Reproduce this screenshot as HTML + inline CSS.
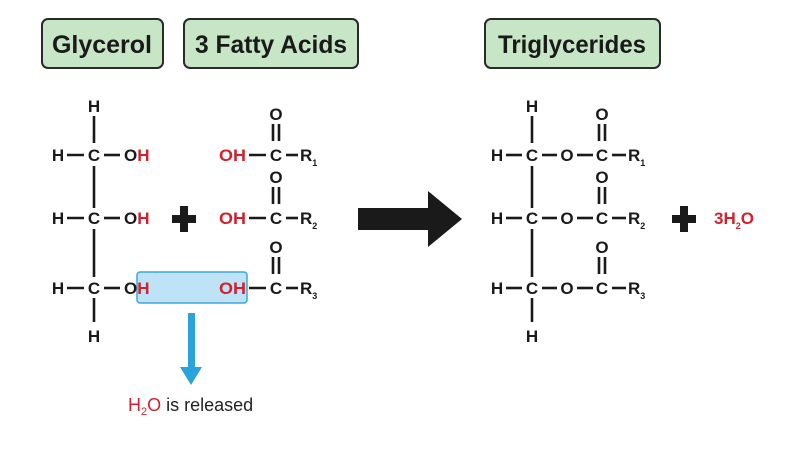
<!DOCTYPE html>
<html><head><meta charset="utf-8"><style>
html,body{margin:0;padding:0;background:#fff;}
svg{display:block;}
text{font-family:"Liberation Sans",Arial,sans-serif;}
.b{font-weight:bold;font-size:17px;fill:#1a1a1a;}
.r{fill:#d3202e;}
</style></head><body>
<svg width="800" height="475" viewBox="0 0 800 475" xmlns="http://www.w3.org/2000/svg">
<rect width="800" height="475" fill="#fff"/>
<g stroke="#2a2a2a" stroke-width="2" fill="#c6e6c5">
<rect x="42" y="19" width="121" height="49" rx="6"/>
<rect x="184" y="19" width="174" height="49" rx="6"/>
<rect x="485" y="19" width="175" height="49" rx="6"/>
</g>
<g font-weight="bold" font-size="25" fill="#1a1a1a" text-anchor="middle">
<text x="102" y="53" textLength="100" lengthAdjust="spacingAndGlyphs">Glycerol</text>
<text x="271" y="53" textLength="152" lengthAdjust="spacingAndGlyphs">3 Fatty Acids</text>
<text x="572" y="53" textLength="148" lengthAdjust="spacingAndGlyphs">Triglycerides</text>
</g>
<g stroke="#1a1a1a" stroke-width="2.6">
<line x1="94" y1="116" x2="94" y2="143"/>
<line x1="94" y1="166" x2="94" y2="208"/>
<line x1="94" y1="229" x2="94" y2="277"/>
<line x1="94" y1="298" x2="94" y2="322"/>
<line x1="67" y1="155" x2="84" y2="155"/><line x1="104" y1="155" x2="120" y2="155"/>
<line x1="67" y1="218" x2="84" y2="218"/><line x1="104" y1="218" x2="120" y2="218"/>
<line x1="67" y1="288" x2="84" y2="288"/><line x1="104" y1="288" x2="120" y2="288"/>
<line x1="249" y1="155" x2="266" y2="155"/><line x1="286" y1="155" x2="298" y2="155"/>
<line x1="249" y1="218" x2="266" y2="218"/><line x1="286" y1="218" x2="298" y2="218"/>
<line x1="249" y1="288" x2="266" y2="288"/><line x1="286" y1="288" x2="298" y2="288"/>
<line x1="273" y1="124" x2="273" y2="141"/><line x1="279" y1="124" x2="279" y2="141"/>
<line x1="273" y1="187" x2="273" y2="204"/><line x1="279" y1="187" x2="279" y2="204"/>
<line x1="273" y1="257" x2="273" y2="274"/><line x1="279" y1="257" x2="279" y2="274"/>
<line x1="532" y1="116" x2="532" y2="143"/>
<line x1="532" y1="166" x2="532" y2="208"/>
<line x1="532" y1="229" x2="532" y2="277"/>
<line x1="532" y1="298" x2="532" y2="322"/>
<line x1="506" y1="155" x2="522" y2="155"/><line x1="542" y1="155" x2="557" y2="155"/><line x1="577" y1="155" x2="593" y2="155"/><line x1="612" y1="155" x2="626" y2="155"/>
<line x1="506" y1="218" x2="522" y2="218"/><line x1="542" y1="218" x2="557" y2="218"/><line x1="577" y1="218" x2="593" y2="218"/><line x1="612" y1="218" x2="626" y2="218"/>
<line x1="506" y1="288" x2="522" y2="288"/><line x1="542" y1="288" x2="557" y2="288"/><line x1="577" y1="288" x2="593" y2="288"/><line x1="612" y1="288" x2="626" y2="288"/>
<line x1="599" y1="124" x2="599" y2="141"/><line x1="605" y1="124" x2="605" y2="141"/>
<line x1="599" y1="187" x2="599" y2="204"/><line x1="605" y1="187" x2="605" y2="204"/>
<line x1="599" y1="257" x2="599" y2="274"/><line x1="605" y1="257" x2="605" y2="274"/>
</g>
<rect x="137" y="272" width="110" height="31" rx="3" fill="#bfe3f6" stroke="#3aa7db" stroke-width="1.5"/>
<g class="b" text-anchor="middle">
<text x="94" y="112">H</text>
<text x="58" y="161">H</text><text x="94" y="161">C</text>
<text x="58" y="224">H</text><text x="94" y="224">C</text>
<text x="58" y="294">H</text><text x="94" y="294">C</text>
<text x="94" y="342">H</text>
<text x="276" y="120">O</text><text x="276" y="183">O</text><text x="276" y="253">O</text>
<text x="276" y="161">C</text><text x="276" y="224">C</text><text x="276" y="294">C</text>
<text x="532" y="112">H</text>
<text x="497" y="161">H</text><text x="532" y="161">C</text><text x="567" y="161">O</text><text x="602" y="161">C</text>
<text x="497" y="224">H</text><text x="532" y="224">C</text><text x="567" y="224">O</text><text x="602" y="224">C</text>
<text x="497" y="294">H</text><text x="532" y="294">C</text><text x="567" y="294">O</text><text x="602" y="294">C</text>
<text x="532" y="342">H</text>
<text x="602" y="120">O</text><text x="602" y="183">O</text><text x="602" y="253">O</text>
</g>
<g class="b">
<text x="124" y="161">O<tspan class="r">H</tspan></text>
<text x="124" y="224">O<tspan class="r">H</tspan></text>
<text x="124" y="294">O<tspan class="r">H</tspan></text>
<text x="219" y="161" class="r" textLength="27" lengthAdjust="spacingAndGlyphs">OH</text>
<text x="219" y="224" class="r" textLength="27" lengthAdjust="spacingAndGlyphs">OH</text>
<text x="219" y="294" class="r" textLength="27" lengthAdjust="spacingAndGlyphs">OH</text>
<text x="300" y="161">R<tspan font-size="9" dy="5">1</tspan></text>
<text x="300" y="224">R<tspan font-size="9" dy="5">2</tspan></text>
<text x="300" y="294">R<tspan font-size="9" dy="5">3</tspan></text>
<text x="628" y="161">R<tspan font-size="9" dy="5">1</tspan></text>
<text x="628" y="224">R<tspan font-size="9" dy="5">2</tspan></text>
<text x="628" y="294">R<tspan font-size="9" dy="5">3</tspan></text>
<text x="714" y="224" class="r">3H<tspan font-size="9" dy="5">2</tspan><tspan dy="-5">O</tspan></text>
</g>
<g fill="#1a1a1a">
<rect x="172" y="215" width="24" height="8"/><rect x="180" y="206" width="8" height="26"/>
<rect x="672" y="215" width="24" height="8"/><rect x="680" y="206" width="8" height="26"/>
</g>
<polygon points="358,208 428,208 428,191 462,219 428,247 428,230 358,230" fill="#1a1a1a"/>
<rect x="188" y="313" width="7" height="56" fill="#29a3dc"/>
<polygon points="180,367 202,367 191,385" fill="#29a3dc"/>
<text x="128" y="411" font-size="18" fill="#222"><tspan fill="#d3202e">H<tspan font-size="11" dy="4">2</tspan><tspan dy="-4">O</tspan></tspan> is released</text>
</svg>
</body></html>
